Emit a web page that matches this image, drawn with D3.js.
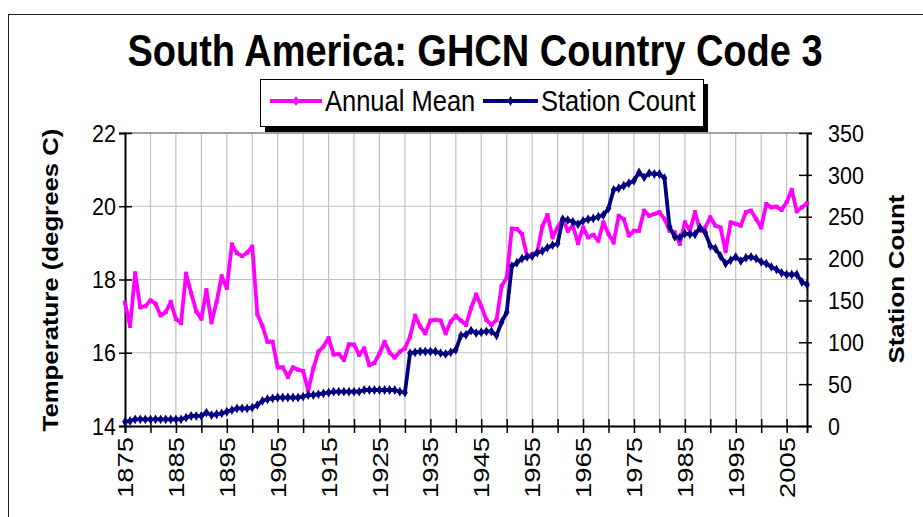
<!DOCTYPE html>
<html>
<head>
<meta charset="utf-8">
<script src="https://cdn.jsdelivr.net/npm/d3@7"></script>
<style>
  body { margin: 0; background: #fff; }
  svg { display: block; }
  text { font-family: "Liberation Sans", Arial, sans-serif; fill: #000; }
</style>
</head>
<body>
<svg id="chart" width="923" height="517"></svg>
<script>
// datos (1875 - 2009)
const startYear = 1875;

const annualMean = [
  17.36, 16.73, 18.17, 17.24, 17.27, 17.43, 17.34, 17.02, 17.11, 17.39,
  16.92, 16.81, 18.16, 17.63, 17.13, 16.93, 17.71, 16.83, 17.39, 18.09,
  17.77, 18.96, 18.72, 18.64, 18.73, 18.90, 17.06, 16.73, 16.30, 16.30,
  15.60, 15.60, 15.34, 15.60, 15.54, 15.50, 14.97, 15.57, 16.03, 16.17,
  16.40, 15.95, 15.97, 15.80, 16.23, 16.22, 15.94, 16.12, 15.66, 15.72,
  15.98, 16.30, 16.00, 15.87, 16.03, 16.12, 16.44, 17.01, 16.72, 16.53,
  16.88, 16.90, 16.88, 16.53, 16.85, 17.01, 16.88, 16.76, 17.22, 17.59,
  17.27, 16.90, 16.76, 16.90, 17.82, 18.05, 19.39, 19.38, 19.24, 18.64,
  18.69, 18.75, 19.45, 19.76, 19.15, 19.42, 19.65, 19.33, 19.47, 18.99,
  19.42, 19.15, 19.22, 19.06, 19.56, 19.24, 19.01, 19.74, 19.65, 19.20,
  19.33, 19.33, 19.88, 19.74, 19.79, 19.84, 19.65, 19.33, 19.29, 18.97,
  19.56, 19.33, 19.84, 19.33, 19.42, 19.70, 19.47, 19.42, 18.77, 19.56,
  19.52, 19.47, 19.84, 19.88, 19.65, 19.42, 20.06, 19.97, 19.99, 19.90,
  20.11, 20.45, 19.86, 19.97, 20.08
];

const stationCount = [
  5, 6, 8, 8, 8, 8, 8, 8, 8, 8,
  8, 8, 10, 12, 12, 12, 16, 13, 14, 15,
  17, 19, 21, 21, 21, 22, 25, 30, 32, 33,
  34, 34, 34, 34, 34, 35, 37, 37, 38, 39,
  40, 41, 41, 41, 41, 41, 41, 43, 43, 43,
  43, 43, 43, 43, 41, 40, 87, 88, 89, 89,
  89, 89, 87, 86, 88, 91, 108, 109, 114, 111,
  112, 113, 113, 108, 124, 136, 191, 195, 200, 202,
  203, 207, 209, 213, 216, 218, 247, 246, 244, 241,
  245, 247, 248, 250, 252, 260, 282, 284, 287, 290,
  293, 303, 297, 302, 301, 301, 296, 238, 226, 225,
  230, 229, 229, 237, 231, 215, 212, 203, 194, 198,
  202, 197, 201, 202, 200, 196, 194, 190, 187, 183,
  181, 181, 181, 172, 169
];

const tempTicks = [14, 16, 18, 20, 22];
const countTicks = [0, 50, 100, 150, 200, 250, 300, 350];
const yearTicks = [1875, 1880, 1885, 1890, 1895, 1900, 1905, 1910, 1915, 1920,
  1925, 1930, 1935, 1940, 1945, 1950, 1955, 1960, 1965, 1970, 1975, 1980,
  1985, 1990, 1995, 2000, 2005];
const yearLabels = [1875, 1885, 1895, 1905, 1915, 1925, 1935, 1945, 1955,
  1965, 1975, 1985, 1995, 2005];

const titleText = 'South America: GHCN Country Code 3';
const seriesNames = ['Annual Mean', 'Station Count'];
const leftTitle = 'Temperature (degrees C)';
const rightTitle = 'Station Count';

const pink = '#ff00ff';
const navy = '#000080';
const K = 1.12; // el texto del original sale un poco estirado en vertical

const plot = { left: 125, right: 807, top: 133, bottom: 426 };

const svg = d3.select('#chart');

// borde exterior del grafico
svg.append('rect')
  .attr('x', 8.5).attr('y', 14.5)
  .attr('width', 930).attr('height', 520)
  .attr('fill', '#fff').attr('stroke', '#222').attr('stroke-width', 1);

const x = d3.scaleLinear().domain([startYear, startYear + annualMean.length - 1])
  .range([plot.left, plot.right]);
const yT = d3.scaleLinear().domain([14, 22]).range([plot.bottom, plot.top]);
const yC = d3.scaleLinear().domain([0, 350]).range([plot.bottom, plot.top]);

// texto horizontal con estiramiento vertical
function hText(txt, px, py, size, opts = {}) {
  return svg.append('text')
    .attr('transform', `translate(${px},${py}) scale(1,${opts.k || K})`)
    .attr('text-anchor', opts.anchor || 'start')
    .attr('dy', opts.dy || 0)
    .style('font-size', size + 'px')
    .style('font-weight', opts.bold ? 'bold' : 'normal')
    .text(txt);
}

// texto girado -90 (se lee de abajo a arriba)
function vText(txt, px, py, size, opts = {}) {
  return svg.append('text')
    .attr('transform', `translate(${px},${py}) rotate(-90) scale(${opts.k || K},1)`)
    .attr('text-anchor', opts.anchor || 'middle')
    .attr('dy', opts.dy || 0)
    .style('font-size', size + 'px')
    .style('font-weight', opts.bold ? 'bold' : 'normal')
    .text(txt);
}

// rejilla
const grid = svg.append('g');
grid.selectAll('.hg')
  .data(tempTicks.filter(d => d > 14 && d < 22))
  .enter().append('line')
  .attr('x1', plot.left).attr('x2', plot.right)
  .attr('y1', d => yT(d)).attr('y2', d => yT(d))
  .attr('stroke', '#c0c0c0').attr('stroke-width', 1.2);
grid.selectAll('.vg')
  .data(yearTicks.filter(d => d > startYear))
  .enter().append('line')
  .attr('x1', d => x(d)).attr('x2', d => x(d))
  .attr('y1', plot.top).attr('y2', plot.bottom)
  .attr('stroke', '#c0c0c0').attr('stroke-width', 1.2);

// borde superior del area de trazado
svg.append('line')
  .attr('x1', plot.left).attr('x2', plot.right)
  .attr('y1', plot.top).attr('y2', plot.top)
  .attr('stroke', '#808080').attr('stroke-width', 1.5);

// ejes
const axL = svg.append('g')
  .attr('transform', `translate(${plot.left},0)`)
  .call(d3.axisLeft(yT).tickValues(tempTicks).tickSize(6).tickFormat(''));
const axR = svg.append('g')
  .attr('transform', `translate(${plot.right},0)`)
  .call(d3.axisRight(yC).tickValues(countTicks).tickSize(5).tickFormat(''));
const axB = svg.append('g')
  .attr('transform', `translate(0,${plot.bottom})`)
  .call(d3.axisBottom(x).tickValues(yearTicks).tickSize(7).tickFormat(''));

axL.selectAll('.tick line').attr('x1', 7);
axR.selectAll('.tick line').attr('x1', -8);
axB.selectAll('.tick line').attr('y1', -7);
[axL, axR, axB].forEach(a => {
  a.select('.domain').attr('stroke', '#000').attr('stroke-width', 2);
  a.selectAll('.tick line').attr('stroke', '#000').attr('stroke-width', 1.5);
});

// etiquetas de los ejes
tempTicks.forEach(v => hText(v, 116, yT(v), 21.5, { anchor: 'end', dy: '0.36em' }));
countTicks.forEach(v => hText(v, 828, yC(v), 21.5, { anchor: 'start', dy: '0.36em' }));
yearLabels.forEach(v => vText(v, x(v), 437, 22.5, { anchor: 'end', dy: '0.36em', k: 1.22 }));

vText(leftTitle, 58, 280, 23, { bold: true });
vText(rightTitle, 904, 279, 23, { bold: true });

// series
const meanData = annualMean.map((v, i) => ({ year: startYear + i, v }));
const countData = stationCount.map((v, i) => ({ year: startYear + i, v }));

svg.append('path')
  .datum(meanData)
  .attr('d', d3.line().x(d => x(d.year)).y(d => yT(d.v)))
  .attr('fill', 'none').attr('stroke', pink)
  .attr('stroke-width', 3.8).attr('stroke-linejoin', 'round');
svg.selectAll('.pm')
  .data(meanData).enter().append('rect')
  .attr('x', d => x(d.year) - 2).attr('y', d => yT(d.v) - 2)
  .attr('width', 4).attr('height', 4).attr('fill', pink);

svg.append('path')
  .datum(countData)
  .attr('d', d3.line().x(d => x(d.year)).y(d => yC(d.v)))
  .attr('fill', 'none').attr('stroke', navy)
  .attr('stroke-width', 3.8).attr('stroke-linejoin', 'round');
svg.selectAll('.cm')
  .data(countData).enter().append('path')
  .attr('transform', d => `translate(${x(d.year)},${yC(d.v)})`)
  .attr('d', d3.symbol().type(d3.symbolDiamond).size(28))
  .attr('fill', navy);

// titulo
hText(titleText, 475, 66, 38, { anchor: 'middle', bold: true, k: 1.16 });

// leyenda con sombra
svg.append('rect')
  .attr('x', 265).attr('y', 84).attr('width', 443).attr('height', 48)
  .attr('fill', '#000');
svg.append('rect')
  .attr('x', 260.5).attr('y', 79.5).attr('width', 443).attr('height', 47)
  .attr('fill', '#fff').attr('stroke', '#000').attr('stroke-width', 1);

const legendItems = [
  { name: seriesNames[0], color: pink, x0: 270, x1: 322, tx: 325 },
  { name: seriesNames[1], color: navy, x0: 483, x1: 538, tx: 541 }
];
legendItems.forEach(it => {
  svg.append('line')
    .attr('x1', it.x0).attr('x2', it.x1).attr('y1', 101).attr('y2', 101)
    .attr('stroke', it.color).attr('stroke-width', 3.8);
  svg.append('path')
    .attr('transform', `translate(${(it.x0 + it.x1) / 2},101)`)
    .attr('d', d3.symbol().type(d3.symbolDiamond).size(28))
    .attr('fill', it.color);
  hText(it.name, it.tx, 100, 25.5, { dy: '0.36em', k: 1.16 });
});
</script>
</body>
</html>
